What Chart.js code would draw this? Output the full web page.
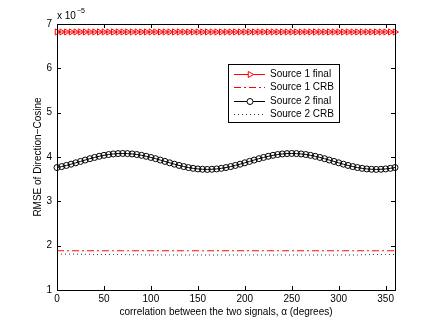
<!DOCTYPE html>
<html>
<head>
<meta charset="utf-8">
<script src="https://cdn.jsdelivr.net/npm/chart.js@4/dist/chart.umd.min.js"></script>
<style>
  html, body { margin: 0; padding: 0; background: #fff; }
  #wrap { width: 436px; height: 327px; }
</style>
</head>
<body>
<div id="wrap"><canvas id="rmseChart" width="436" height="327"></canvas></div>
<script>
// correlation angle alpha (degrees)
const alpha = [0, 5, 10, 15, 20, 25, 30, 35, 40, 45, 50, 55, 60, 65, 70, 75, 80, 85, 90, 95,
    100, 105, 110, 115, 120, 125, 130, 135, 140, 145, 150, 155, 160, 165, 170, 175, 180,
    185, 190, 195, 200, 205, 210, 215, 220, 225, 230, 235, 240, 245, 250, 255, 260, 265,
    270, 275, 280, 285, 290, 295, 300, 305, 310, 315, 320, 325, 330, 335, 340, 345, 350, 355, 360];

// values in units of 1e-5
const source1Final = [6.82, 6.82, 6.82, 6.82, 6.82, 6.82, 6.82, 6.82, 6.82, 6.82, 6.82, 6.82, 6.82,
    6.82, 6.82, 6.82, 6.82, 6.82, 6.82, 6.82, 6.82, 6.82, 6.82, 6.82, 6.82, 6.82, 6.82, 6.82, 6.82,
    6.82, 6.82, 6.82, 6.82, 6.82, 6.82, 6.82, 6.82, 6.82, 6.82, 6.82, 6.82, 6.82, 6.82, 6.82, 6.82,
    6.82, 6.82, 6.82, 6.82, 6.82, 6.82, 6.82, 6.82, 6.82, 6.82, 6.82, 6.82, 6.82, 6.82, 6.82, 6.82,
    6.82, 6.82, 6.82, 6.82, 6.82, 6.82, 6.82, 6.82, 6.82, 6.82, 6.82, 6.82];

const source1Crb = [1.885, 1.885, 1.885, 1.885, 1.885, 1.885, 1.885, 1.885, 1.885, 1.885, 1.885,
    1.885, 1.885, 1.885, 1.885, 1.885, 1.885, 1.885, 1.885, 1.885, 1.885, 1.885, 1.885, 1.885,
    1.885, 1.885, 1.885, 1.885, 1.885, 1.885, 1.885, 1.885, 1.885, 1.885, 1.885, 1.885, 1.885,
    1.885, 1.885, 1.885, 1.885, 1.885, 1.885, 1.885, 1.885, 1.885, 1.885, 1.885, 1.885, 1.885,
    1.885, 1.885, 1.885, 1.885, 1.885, 1.885, 1.885, 1.885, 1.885, 1.885, 1.885, 1.885, 1.885,
    1.885, 1.885, 1.885, 1.885, 1.885, 1.885, 1.885, 1.885, 1.885, 1.885];

const source2Final = [3.762, 3.784, 3.81, 3.838, 3.869, 3.9, 3.931, 3.962, 3.99, 4.016, 4.038,
    4.056, 4.069, 4.077, 4.08, 4.077, 4.069, 4.056, 4.038, 4.016, 3.99, 3.962, 3.931, 3.9,
    3.869, 3.838, 3.81, 3.784, 3.762, 3.744, 3.731, 3.723, 3.72, 3.723, 3.731, 3.744, 3.762,
    3.784, 3.81, 3.838, 3.869, 3.9, 3.931, 3.962, 3.99, 4.016, 4.038, 4.056, 4.069, 4.077,
    4.08, 4.077, 4.069, 4.056, 4.038, 4.016, 3.99, 3.962, 3.931, 3.9, 3.869, 3.838, 3.81,
    3.784, 3.762, 3.744, 3.731, 3.723, 3.72, 3.723, 3.731, 3.744, 3.762];

const source2Crb = [1.81, 1.81, 1.81, 1.81, 1.81, 1.805, 1.805, 1.805, 1.8, 1.8, 1.8, 1.8, 1.8,
    1.8, 1.8, 1.795, 1.795, 1.795, 1.795, 1.79, 1.79, 1.79, 1.79, 1.79, 1.79, 1.79, 1.79, 1.79,
    1.79, 1.79, 1.79, 1.79, 1.79, 1.79, 1.79, 1.79, 1.79, 1.79, 1.79, 1.79, 1.79, 1.79, 1.79,
    1.79, 1.79, 1.79, 1.79, 1.79, 1.79, 1.79, 1.79, 1.79, 1.79, 1.79, 1.79, 1.79, 1.79, 1.79,
    1.79, 1.79, 1.79, 1.79, 1.79, 1.79, 1.79, 1.795, 1.795, 1.8, 1.8, 1.8, 1.8, 1.8, 1.8];

const xTicks = [0, 50, 100, 150, 200, 250, 300, 350];
const yTicks = [1, 2, 3, 4, 5, 6, 7];

const FONT = "'Liberation Sans', Arial, Helvetica, sans-serif";

// MATLAB style box with inward ticks
const boxPlugin = {
    id: "matlabBox",
    afterDraw(chart) {
        const { ctx, chartArea: a, scales } = chart;
        ctx.save();
        ctx.strokeStyle = "#000";
        ctx.lineWidth = 1;
        ctx.beginPath();
        xTicks.forEach(v => {
            const px = Math.round(scales.x.getPixelForValue(v)) + 0.5;
            ctx.moveTo(px, a.bottom); ctx.lineTo(px, a.bottom - 4);
            ctx.moveTo(px, a.top); ctx.lineTo(px, a.top + 4);
        });
        yTicks.forEach(v => {
            const py = Math.round(scales.y.getPixelForValue(v)) + 0.5;
            ctx.moveTo(a.left, py); ctx.lineTo(a.left + 4, py);
            ctx.moveTo(a.right, py); ctx.lineTo(a.right - 4, py);
        });
        ctx.stroke();
        ctx.strokeRect(Math.round(a.left) + 0.5, Math.round(a.top) + 0.5,
            Math.round(a.right - a.left), Math.round(a.bottom - a.top));

        // exponent label
        ctx.fillStyle = "#000";
        ctx.textBaseline = "alphabetic";
        ctx.font = "10px " + FONT;
        ctx.fillText("x 10", a.left, 19);
        ctx.font = "7px " + FONT;
        ctx.fillText("\u22125", a.left + 20, 13);
        ctx.restore();
    }
};

// legend box inside the axes
const legendPlugin = {
    id: "innerLegend",
    afterDraw(chart) {
        const { ctx } = chart;
        const bx = 228, by = 64, bw = 111, bh = 58;
        ctx.save();
        ctx.fillStyle = "#fff";
        ctx.fillRect(bx, by, bw, bh);
        ctx.strokeStyle = "#000";
        ctx.lineWidth = 1;
        ctx.strokeRect(bx + 0.5, by + 0.5, bw, bh);
        const rows = [74, 87, 100.5, 113.5];
        chart.data.datasets.forEach((ds, i) => {
            const y = Math.round(rows[i]) + 0.5;
            ctx.strokeStyle = ds.borderColor;
            ctx.lineWidth = 1;
            ctx.setLineDash(ds.borderDash || []);
            ctx.beginPath();
            ctx.moveTo(234, y);
            ctx.lineTo(265, y);
            ctx.stroke();
            ctx.setLineDash([]);
            if (ds.pointRadius > 0) {
                ctx.fillStyle = "rgba(255,255,255,1)";
                ctx.strokeStyle = ds.pointBorderColor;
                Chart.helpers.drawPoint(ctx, {
                    pointStyle: ds.pointStyle,
                    rotation: ds.pointRotation || 0,
                    radius: ds.pointRadius,
                    borderWidth: 1
                }, 250, y);
            }
            ctx.fillStyle = "#000";
            ctx.font = "10px " + FONT;
            ctx.textBaseline = "middle";
            ctx.fillText(ds.label, 270, y);
        });
        ctx.restore();
    }
};

new Chart(document.getElementById("rmseChart"), {
    type: "line",
    data: {
        labels: alpha,
        datasets: [
            {
                label: "Source 1 final",
                data: source1Final,
                borderColor: "#ff0000",
                borderWidth: 1,
                pointStyle: "triangle",
                pointRotation: 90,
                pointRadius: 3.5,
                pointBorderColor: "#ff0000",
                pointBackgroundColor: "rgba(0,0,0,0)",
                pointBorderWidth: 1,
                tension: 0,
                clip: false
            },
            {
                label: "Source 1 CRB",
                data: source1Crb,
                borderColor: "#ff0000",
                borderWidth: 1,
                borderDash: [7, 3, 2, 3],
                pointRadius: 0,
                tension: 0
            },
            {
                label: "Source 2 final",
                data: source2Final,
                borderColor: "#000000",
                borderWidth: 1,
                pointStyle: "circle",
                pointRadius: 3,
                pointBorderColor: "#000000",
                pointBackgroundColor: "rgba(0,0,0,0)",
                pointBorderWidth: 1,
                tension: 0,
                clip: false
            },
            {
                label: "Source 2 CRB",
                data: source2Crb,
                borderColor: "#333333",
                borderWidth: 1,
                borderDash: [1, 3],
                pointRadius: 0,
                tension: 0
            }
        ]
    },
    options: {
        responsive: false,
        animation: false,
        layout: { padding: { top: 24, right: 41, left: 0, bottom: 0 } },
        plugins: {
            legend: { display: false },
            tooltip: { enabled: false }
        },
        scales: {
            x: {
                type: "linear",
                min: 0,
                max: 360,
                grid: { display: false, drawTicks: false },
                border: { display: false },
                ticks: {
                    stepSize: 50,
                    includeBounds: false,
                    maxRotation: 0,
                    padding: 3,
                    color: "#000",
                    font: { family: FONT, size: 10 }
                },
                title: {
                    display: true,
                    text: "correlation between the two signals, \u03b1 (degrees)",
                    color: "#000",
                    font: { family: FONT, size: 10 },
                    padding: { top: 0, bottom: 9 }
                },
                afterFit(scale) { scale.height = 37; }
            },
            y: {
                min: 1,
                max: 7,
                grid: { display: false, drawTicks: false },
                border: { display: false },
                ticks: {
                    stepSize: 1,
                    padding: 5,
                    color: "#000",
                    font: { family: FONT, size: 10 }
                },
                title: {
                    display: true,
                    text: "RMSE of Direction\u2212Cosine",
                    color: "#000",
                    font: { family: FONT, size: 10 },
                    padding: { top: 32, bottom: 0 }
                },
                afterFit(scale) { scale.width = 57; }
            }
        }
    },
    plugins: [boxPlugin, legendPlugin]
});
</script>
</body>
</html>
